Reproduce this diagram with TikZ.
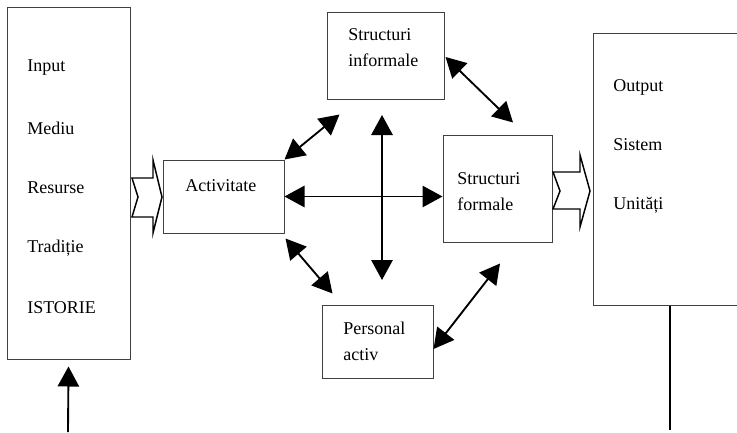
\documentclass[tikz,border=0pt]{standalone}
\usepackage{fontspec}
\setmainfont{Liberation Serif}
\usetikzlibrary{arrows.meta}

\tikzset{
  box/.style={draw=black!75, line width=0.75pt, inner sep=0pt},
  lbl/.style={anchor=west, inner sep=0pt, align=left, font=\fontsize{13.5}{19.5}\selectfont},
  conn/.style={line width=1.4pt, {Triangle[length=15pt,width=16pt]}-{Triangle[length=15pt,width=16pt]}},
  feed/.style={line width=1.4pt, -{Triangle[length=15pt,width=16pt]}},
  fat/.style={draw=black, line width=1.1pt, fill=white, line join=miter}
}

\begin{document}
\begin{tikzpicture}[x=0.75pt,y=0.75pt,yscale=-1,xscale=1]
	\useasboundingbox (0,0) rectangle (737,432);
	\clip (0,0) rectangle (737,432);

	%Shape: Rectangle [input]
	\node [box, minimum width=92.25pt, minimum height=264pt] (in) at (68.5,183) {};
	%Shape: Rectangle [activitate]
	\node [box, minimum width=90.75pt, minimum height=54.75pt] (act) at (223.5,196.5) {};
	%Shape: Rectangle [structuri informale]
	\node [box, minimum width=87.75pt, minimum height=65.25pt] (inf) at (385.5,55.5) {};
	%Shape: Rectangle [structuri formale]
	\node [box, minimum width=81.75pt, minimum height=80.25pt] (form) at (497.5,188.5) {};
	%Shape: Rectangle [personal activ]
	\node [box, minimum width=83.25pt, minimum height=54.75pt] (pers) at (377.5,341.5) {};
	%Shape: Rectangle [output]
	\node [box, minimum width=115.5pt, minimum height=204pt] (out) at (670,169) {};

	%Shape: Block Arrow [input -> activitate]
	\draw [fat] (132,178) -- (153,178) -- (153,160) -- (162,197) -- (153,233) -- (153,217) -- (132,217) -- (138,197) -- cycle ;
	%Shape: Block Arrow [formale -> output]
	\draw [fat] (553,172) -- (580,172) -- (580,155) -- (590,191) -- (580,227) -- (580,209) -- (553,209) -- (560,191) -- cycle ;

	%Straight Lines
	\coordinate (vtop) at (382,115);
	\coordinate (vbot) at (382,280);
	\coordinate (src) at (68,432);
	\coordinate (sink) at (670,430);
	\draw [conn] (act.north east) -- ([shift={(13,15)}]inf.south west) ;
	\draw [conn] (act.east) -- (act.east -| form.west) ;
	\draw [conn] (vtop) -- (vbot) ;
	\draw [conn] ([shift={(1,5)}]act.south east) -- ([shift={(11,-11)}]pers.north west) ;
	\draw [conn] ([shift={(1,1.5)}]inf.east) -- ([shift={(15.5,-12)}]form.north) ;
	\draw [conn] ([shift={(0,7.5)}]pers.east) -- ([shift={(2.5,21)}]form.south) ;
	\draw [feed] (src) -- ([shift={(0,7)}]in.south) ;
	\draw [line width=1.4pt] (out.south) -- (sink) ;

	% Text Node
	\node [lbl] (tin) at (27,68) {Input};
	\node [lbl] (tmed) at (27,128) {Mediu};
	\node [lbl] (tres) at (27,188) {Resurse};
	\node [lbl] (ttrad) at (27,248) {Tradiție};
	\node [lbl] (tist) at (27,308) {ISTORIE};
	% Text Node
	\node [lbl] (tact) at (185,186) {Activitate};
	\node [lbl] (tinf) at (348,48) {Structuri\\informale};
	\node [lbl] (tform) at (457,192) {Structuri\\formale};
	\node [lbl] (tpers) at (343,341) {Personal\\activ};
	% Text Node
	\node [lbl] (tout) at (613,87) {Output};
	\node [lbl] (tsis) at (613,145) {Sistem};
	\node [lbl] (tuni) at (613,205) {Unități};

\end{tikzpicture}
\end{document}
